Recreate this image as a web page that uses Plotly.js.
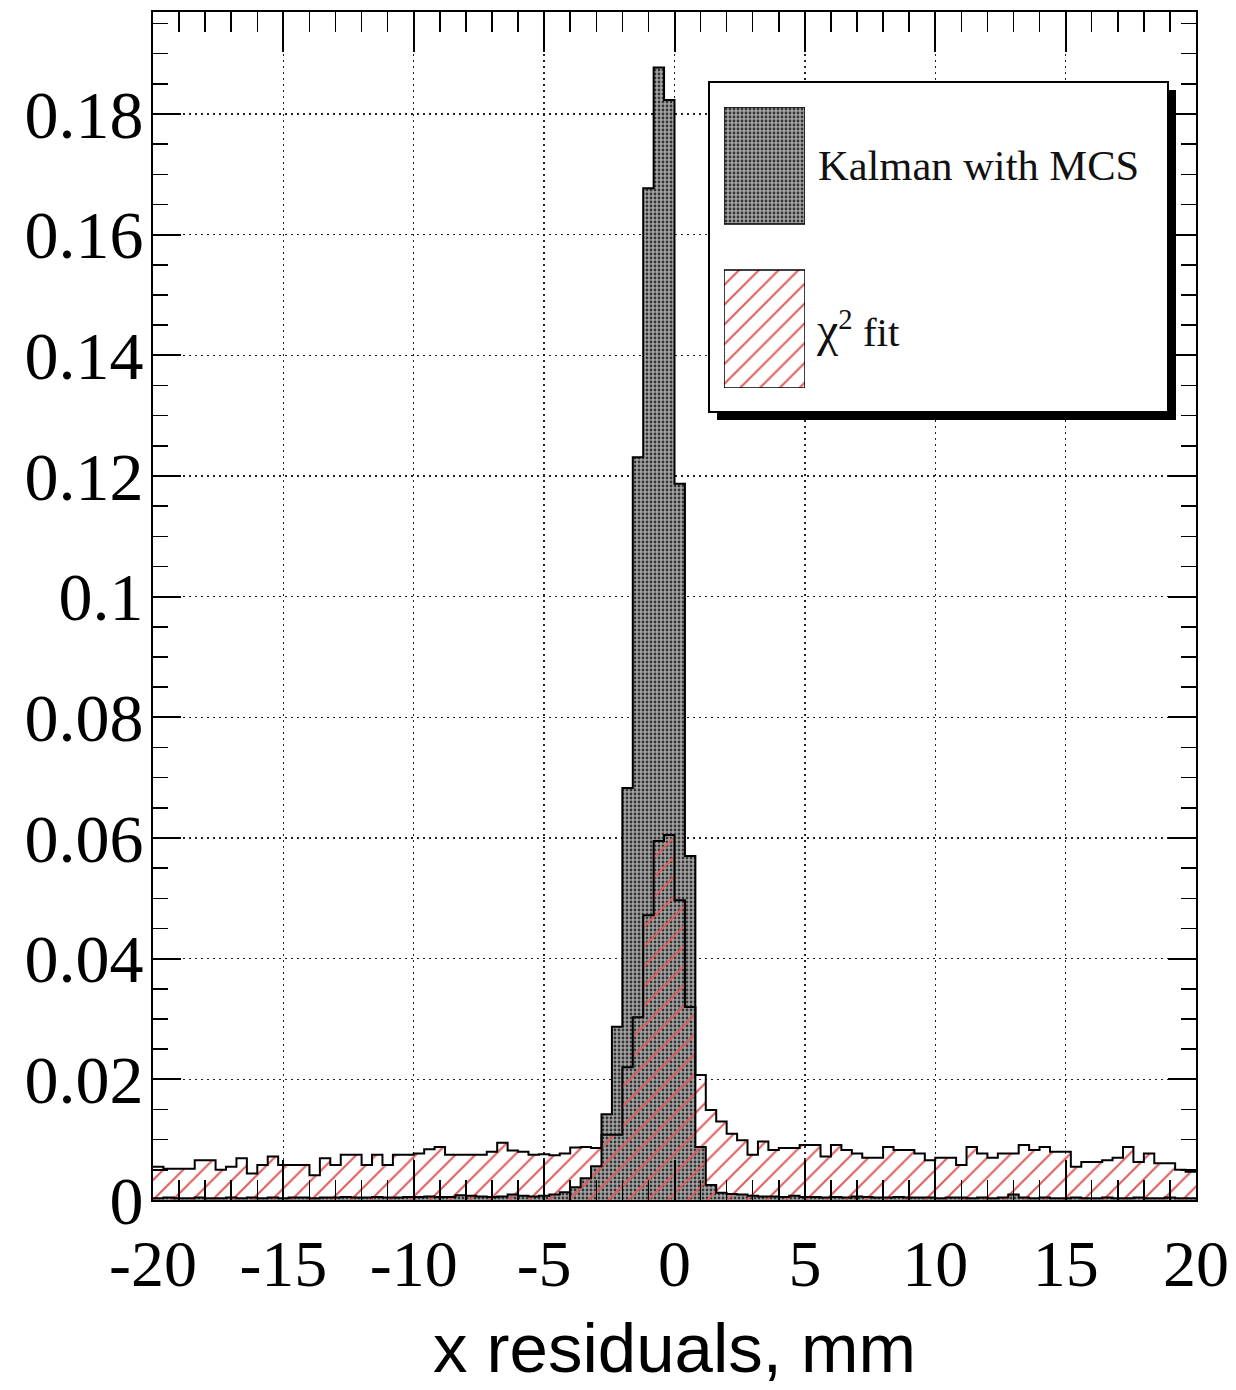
<!DOCTYPE html>
<html>
<head>
<meta charset="utf-8">
<script src="https://cdn.plot.ly/plotly-3.0.1.min.js"></script>
<style>
  html, body { margin: 0; padding: 0; background: #fff; }
  #chart { width: 1236px; height: 1390px; }
</style>
</head>
<body>
<div id="chart"></div>
<script>
// Histogram binning: 100 bins of 0.4 mm from -20 mm
const BIN_LOW = -20;
const BIN_WIDTH = 0.4;

// Normalised x-residual distributions (fraction of entries per bin)
const kalmanMCS = [
  0.0003, 0.0004, 0.0003, 0.0003, 0.0004, 0.0003, 0.0003, 0.0004, 0.0003, 0.0004,
  0.0003, 0.0004, 0.0003, 0.0004, 0.0004, 0.0003, 0.0004, 0.0004, 0.0005, 0.0004,
  0.0004, 0.0005, 0.0004, 0.0004, 0.0005, 0.0005, 0.0006, 0.0005, 0.0005, 0.0008,
  0.0007, 0.0006, 0.0005, 0.0006, 0.0009, 0.0007, 0.0006, 0.0007,
  0.0009, 0.0013, 0.0021, 0.0036, 0.0056, 0.0142, 0.0287, 0.0683, 0.1231, 0.1677,
  0.1877, 0.1823, 0.1187, 0.0570, 0.0088,
  0.0025, 0.0012, 0.0010, 0.0009, 0.0007, 0.0006, 0.0006, 0.0005, 0.0007, 0.0005,
  0.0005, 0.0004, 0.0005, 0.0004, 0.0006, 0.0005, 0.0004, 0.0004, 0.0005, 0.0004,
  0.0004, 0.0004, 0.0003, 0.0004, 0.0004, 0.0003, 0.0004, 0.0003, 0.0004, 0.0009,
  0.0004, 0.0003, 0.0004, 0.0003, 0.0003, 0.0004, 0.0003, 0.0003, 0.0004, 0.0003,
  0.0003, 0.0004, 0.0003, 0.0003, 0.0004, 0.0003, 0.0003
];

const chi2Fit = [
  0.0055, 0.0052, 0.0052, 0.0052, 0.0066, 0.0066, 0.0050, 0.0055, 0.0069, 0.0044,
  0.0058, 0.0072, 0.0058, 0.0058, 0.0058, 0.0041, 0.0069, 0.0058, 0.0075, 0.0075,
  0.0058, 0.0075, 0.0058, 0.0075, 0.0075, 0.0077, 0.0084, 0.0088, 0.0075, 0.0075,
  0.0075, 0.0075, 0.0080, 0.0095, 0.0082, 0.0080, 0.0075, 0.0076, 0.0074, 0.0077,
  0.0087, 0.0088, 0.0086, 0.0108, 0.0108, 0.0220, 0.0303, 0.0472, 0.0595, 0.0605,
  0.0497, 0.0320, 0.0207,
  0.0149, 0.0130, 0.0110, 0.0099, 0.0075, 0.0097, 0.0083, 0.0086, 0.0086, 0.0091,
  0.0091, 0.0072, 0.0091, 0.0083, 0.0077, 0.0070, 0.0070, 0.0088, 0.0083, 0.0083,
  0.0077, 0.0066, 0.0070, 0.0070, 0.0058, 0.0088, 0.0077, 0.0070, 0.0077, 0.0077,
  0.0091, 0.0083, 0.0088, 0.0080, 0.0080, 0.0055, 0.0063, 0.0063, 0.0066, 0.0070,
  0.0088, 0.0063, 0.0077, 0.0061, 0.0061, 0.0050, 0.0047
];

const xTickVals = [-20, -15, -10, -5, 0, 5, 10, 15, 20];
const xTickText = ['-20', '-15', '-10', '-5', '0', '5', '10', '15', '20'];
const seriesNames = ['Kalman with MCS', '<span style="font-size:48px">χ</span><sup>2</sup> fit'];

// Page geometry (pixels)
const PAGE_W = 1236, PAGE_H = 1390;
const M = { l: 153, r: 40, t: 12, b: 190 };
const X_RANGE = [-20, 20];
const Y_RANGE = [0, 0.1969];
const plotW = PAGE_W - M.l - M.r;
const plotH = PAGE_H - M.t - M.b;

// pixel -> axis / paper coordinates
const pxToX = p => X_RANGE[0] + (p - M.l) / plotW * (X_RANGE[1] - X_RANGE[0]);
const pxToY = p => Y_RANGE[0] + (PAGE_H - M.b - p) / plotH * (Y_RANGE[1] - Y_RANGE[0]);
const pxToPaperX = p => (p - M.l) / plotW;
const pxToPaperY = p => (PAGE_H - M.b - p) / plotH;

// step outline needs the last level repeated at the upper edge
const stepLevels = vals => vals.concat([vals[vals.length - 1]]);

const SERIF = 'Liberation Serif, Times New Roman, serif';
const SANS = 'Liberation Sans, Arial, Helvetica, sans-serif';

const darkFill = {
  color: '#949494',
  pattern: { shape: '.', fgcolor: '#333333', bgcolor: '#a4a4a4', size: 4, solidity: 0.38 },
  line: { width: 0 }
};
const hatchFill = {
  color: '#de5f5f',
  pattern: { shape: '/', fillmode: 'replace', fgcolor: '#de5f5f', bgcolor: 'rgba(0,0,0,0)', size: 14, solidity: 0.15 },
  line: { width: 0 }
};

const traces = [
  {
    type: 'bar', name: seriesNames[0], x0: BIN_LOW, dx: BIN_WIDTH, offset: 0, width: BIN_WIDTH,
    y: kalmanMCS, marker: darkFill, hoverinfo: 'skip', showlegend: false
  },
  {
    type: 'scatter', mode: 'lines', x0: BIN_LOW, dx: BIN_WIDTH, y: stepLevels(kalmanMCS),
    line: { shape: 'hv', color: '#000', width: 2 }, hoverinfo: 'skip', showlegend: false
  },
  {
    type: 'bar', name: 'chi2 fit', x0: BIN_LOW, dx: BIN_WIDTH, offset: 0, width: BIN_WIDTH,
    y: chi2Fit, marker: hatchFill, hoverinfo: 'skip', showlegend: false
  },
  {
    type: 'scatter', mode: 'lines', x0: BIN_LOW, dx: BIN_WIDTH, y: stepLevels(chi2Fit),
    line: { shape: 'hv', color: '#000', width: 2 }, hoverinfo: 'skip', showlegend: false
  }
];

// Legend keys: one swatch per series, drawn on a small helper axis pair
const KEY = { left: 724, right: 805, top: 107, bottom: 388 };
const keyH = KEY.bottom - KEY.top;
const darkKey = { top: 107, bottom: 224 };
const hatchKey = { top: 270, bottom: 388 };
const keyBase = p => (KEY.bottom - p) / keyH;

traces.push({
  type: 'bar', xaxis: 'x2', yaxis: 'y2', x: [0.5], width: [1],
  base: [keyBase(darkKey.bottom)], y: [keyBase(darkKey.top) - keyBase(darkKey.bottom)],
  marker: Object.assign({}, darkFill, { line: { width: 1.5, color: '#000' } }),
  hoverinfo: 'skip', showlegend: false
});
traces.push({
  type: 'bar', xaxis: 'x2', yaxis: 'y2', x: [0.5], width: [1],
  base: [keyBase(hatchKey.bottom)], y: [keyBase(hatchKey.top) - keyBase(hatchKey.bottom)],
  marker: Object.assign({}, hatchFill, { line: { width: 1.5, color: '#000' } }),
  hoverinfo: 'skip', showlegend: false
});

// Legend frame with a drop shadow
const BOX = { left: 709, right: 1168, top: 82, bottom: 412 };
const SHADOW = 8;

const layout = {
  width: PAGE_W,
  height: PAGE_H,
  margin: M,
  paper_bgcolor: '#fff',
  plot_bgcolor: '#fff',
  barmode: 'overlay',
  bargap: 0,
  showlegend: false,
  xaxis: {
    range: X_RANGE,
    tickmode: 'array', tickvals: xTickVals, ticktext: xTickText,
    ticks: 'inside', ticklen: 40, tickwidth: 2, tickcolor: '#000',
    showline: true, linewidth: 2, linecolor: '#000', mirror: 'ticks',
    showgrid: true, gridcolor: '#222', gridwidth: 1.4, griddash: '2px,4px',
    zeroline: false,
    minor: { tickmode: 'linear', tick0: 0, dtick: 1, ticks: 'inside', ticklen: 20, tickwidth: 1.5, tickcolor: '#000', showgrid: false },
    tickfont: { family: SERIF, size: 66, color: '#000' },
    ticklabelstandoff: 5,
    title: { text: 'x residuals, mm', font: { family: SANS, size: 69, color: '#000' }, standoff: 24 },
    fixedrange: true
  },
  yaxis: {
    range: Y_RANGE,
    tickmode: 'linear', tick0: 0, dtick: 0.02,
    ticks: 'inside', ticklen: 28, tickwidth: 2, tickcolor: '#000',
    showline: true, linewidth: 2, linecolor: '#000', mirror: 'ticks',
    showgrid: true, gridcolor: '#222', gridwidth: 1.4, griddash: '2px,4px',
    zeroline: false,
    minor: { tickmode: 'linear', tick0: 0, dtick: 0.005, ticks: 'inside', ticklen: 15, tickwidth: 1.5, tickcolor: '#000', showgrid: false },
    tickfont: { family: SERIF, size: 68, color: '#000' },
    ticklabelstandoff: -6,
    fixedrange: true
  },
  xaxis2: {
    domain: [pxToPaperX(KEY.left), pxToPaperX(KEY.right)], anchor: 'y2',
    range: [0, 1], visible: false, fixedrange: true
  },
  yaxis2: {
    domain: [pxToPaperY(KEY.bottom), pxToPaperY(KEY.top)], anchor: 'x2',
    range: [0, 1], visible: false, fixedrange: true
  },
  shapes: [
    {
      type: 'rect', layer: 'between', xref: 'x', yref: 'y',
      x0: pxToX(BOX.left + SHADOW), x1: pxToX(BOX.right + SHADOW),
      y0: pxToY(BOX.bottom + SHADOW), y1: pxToY(BOX.top + SHADOW),
      fillcolor: '#000', line: { width: 0 }
    },
    {
      type: 'rect', layer: 'between', xref: 'x', yref: 'y',
      x0: pxToX(BOX.left), x1: pxToX(BOX.right),
      y0: pxToY(BOX.bottom), y1: pxToY(BOX.top),
      fillcolor: '#fff', line: { color: '#000', width: 2 }
    }
  ],
  annotations: [
    {
      xref: 'paper', yref: 'paper', x: pxToPaperX(816), y: pxToPaperY(165),
      xanchor: 'left', yanchor: 'middle', showarrow: false,
      text: seriesNames[0], font: { family: SERIF, size: 42.5, color: '#111' }
    },
    {
      xref: 'paper', yref: 'paper', x: pxToPaperX(814), y: pxToPaperY(330),
      xanchor: 'left', yanchor: 'middle', showarrow: false,
      text: seriesNames[1], font: { family: SERIF, size: 41, color: '#111' }
    }
  ]
};

Plotly.newPlot('chart', traces, layout, { staticPlot: true, displayModeBar: false });
</script>
</body>
</html>
